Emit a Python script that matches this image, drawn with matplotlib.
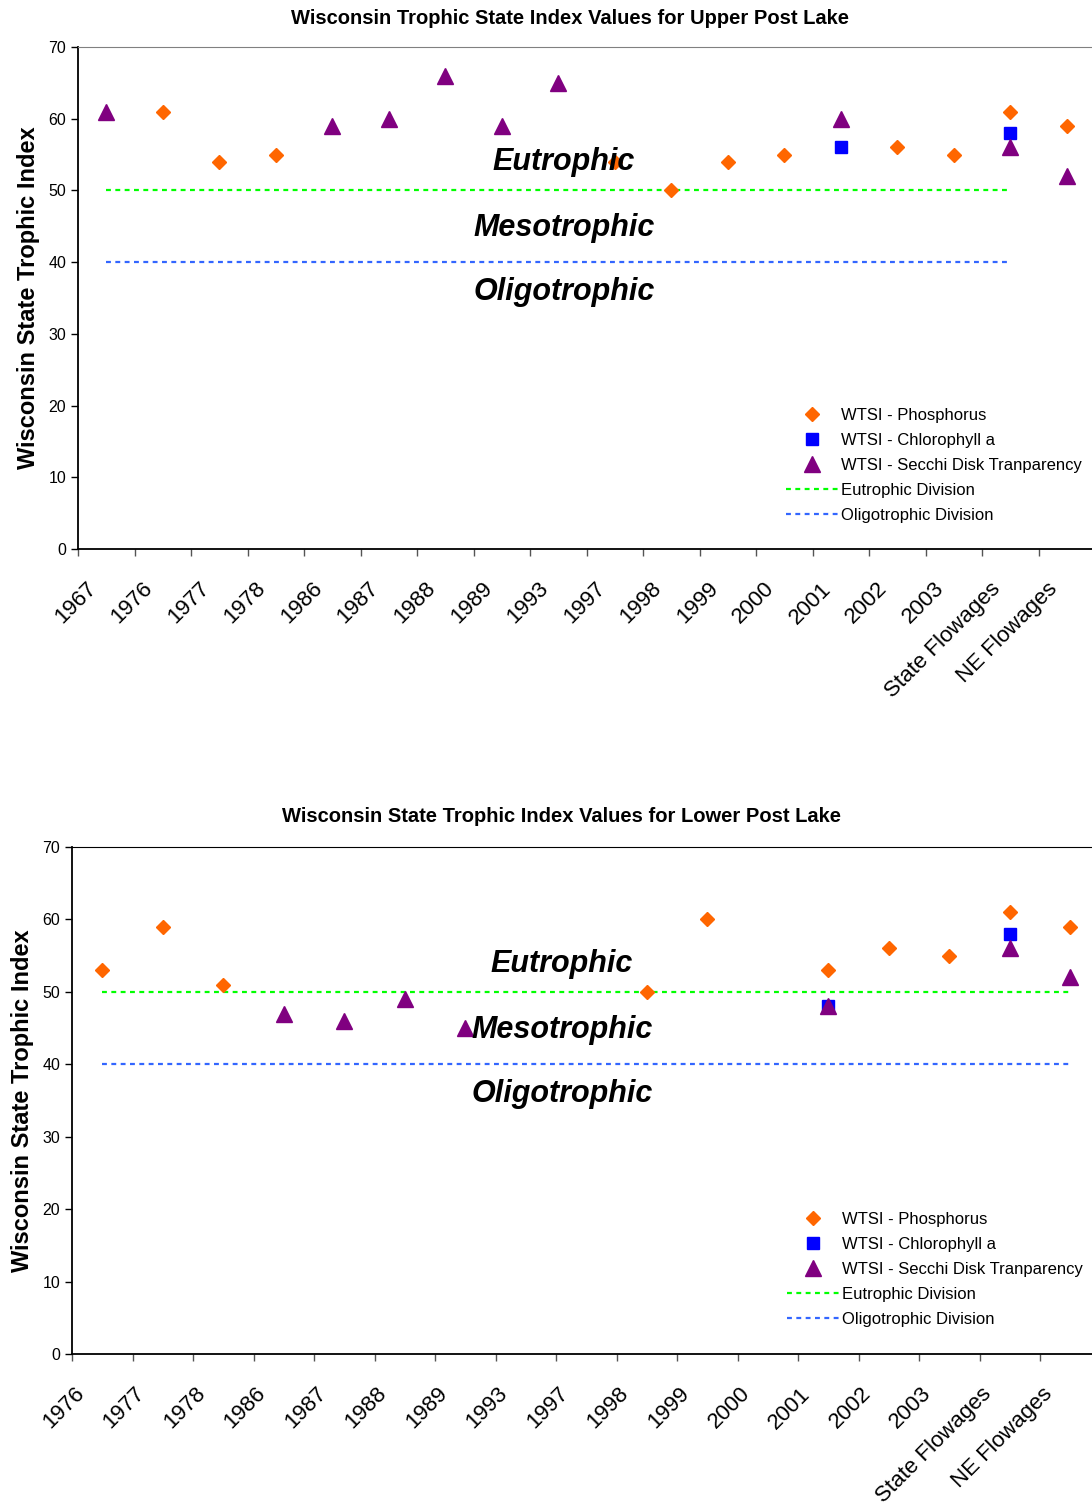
import matplotlib
matplotlib.use("Agg")
import matplotlib.pyplot as plt
import numpy as np

plt.rcParams['font.family'] = ['Liberation Sans', 'DejaVu Sans']

# ---- Upper Post Lake ----
upper_cats = ['1967', '1976', '1977', '1978', '1986', '1987', '1988', '1989', '1993',
              '1997', '1998', '1999', '2000', '2001', '2002', '2003',
              'State Flowages', 'NE Flowages']
upper_phos = [None, 61, 54, 55, None, None, None, None, None,
              54, 50, 54, 55, None, 56, 55, 61, 59]
upper_chl = [None, None, None, None, None, None, None, None, None,
             None, None, None, None, 56, None, None, 58, None]
upper_secchi = [61, None, None, None, 59, 60, 66, 59, 65,
                None, None, None, None, 60, None, None, 56, 52]
upper_eutro = [50] * 17 + [None]
upper_oligo = [40] * 17 + [None]

# ---- Lower Post Lake ----
lower_cats = ['1976', '1977', '1978', '1986', '1987', '1988', '1989', '1993',
              '1997', '1998', '1999', '2000', '2001', '2002', '2003',
              'State Flowages', 'NE Flowages']
lower_phos = [53, 59, 51, None, None, None, None, None,
              None, 50, 60, None, 53, 56, 55, 61, 59]
lower_chl = [None, None, None, None, None, None, None, None,
             None, None, None, None, 48, None, None, 58, None]
lower_secchi = [None, None, None, 47, 46, 49, 45, None,
                None, None, None, None, 48, None, None, 56, 52]
lower_eutro = [50] * 17
lower_oligo = [40] * 17

ORANGE = '#FF6600'
BLUE = '#0000FF'
PURPLE = '#800080'
GREEN = '#00FF00'
LBLUE = '#3366FF'


def to_arr(v):
    return np.array([np.nan if a is None else a for a in v], dtype=float)


def draw_panel(ax, cats, phos, chl, secchi, eutro, oligo, text_x, leg_anchor,
               top_color, lab_off):
    x = np.arange(len(cats))
    ax.plot(x, to_arr(eutro), linestyle=(0, (2.2, 2.0)), color=GREEN, lw=1.6,
            label='Eutrophic Division', zorder=2)
    ax.plot(x, to_arr(oligo), linestyle=(0, (2.2, 2.0)), color=LBLUE, lw=1.6,
            label='Oligotrophic Division', zorder=2)
    ax.plot(x, to_arr(phos), 'D', color=ORANGE, ms=7.5, mec=ORANGE, ls='none',
            label='WTSI - Phosphorus', zorder=3)
    ax.plot(x, to_arr(chl), 's', color=BLUE, ms=8, ls='none',
            label='WTSI - Chlorophyll a', zorder=4)
    ax.plot(x, to_arr(secchi), '^', color=PURPLE, ms=11, ls='none',
            label='WTSI - Secchi Disk Tranparency', zorder=5)

    ax.set_xlim(-0.5, len(cats) - 0.5)
    ax.set_ylim(0, 70)
    ax.set_yticks(range(0, 71, 10))
    # tick marks on the category boundaries, labels hang just right of them
    ax.set_xticks(x - 0.5)
    ax.set_xticklabels([])
    ax.set_xticks(x - 0.5 + lab_off, minor=True)
    ax.set_xticklabels(cats, minor=True, rotation=45, ha='right', va='top',
                       rotation_mode='anchor', fontsize=16)
    ax.tick_params(axis='y', labelsize=11.5, length=5, direction='out', width=1)
    ax.tick_params(axis='x', which='major', length=5, direction='out', width=1, color='#555555')
    ax.tick_params(axis='x', which='minor', length=5, pad=16, color='none')
    ax.spines['right'].set_visible(False)
    ax.spines['top'].set_color(top_color)
    ax.spines['left'].set_linewidth(1.3)
    ax.spines['bottom'].set_linewidth(1.3)
    ax.set_ylabel('Wisconsin State Trophic Index', fontsize=17, fontweight='bold', labelpad=6)

    for label, yv in [('Eutrophic', 53.9), ('Mesotrophic', 44.8), ('Oligotrophic', 35.9)]:
        ax.text(text_x, yv, label, fontsize=22, fontweight='bold', fontstyle='italic',
                ha='center', va='center', zorder=10)

    handles, labels = ax.get_legend_handles_labels()
    order = [2, 3, 4, 0, 1]
    ax.legend([handles[i] for i in order], [labels[i] for i in order],
              loc='upper left', bbox_to_anchor=leg_anchor, bbox_transform=ax.figure.transFigure,
              frameon=False, fontsize=12, handlelength=3.1, handletextpad=0.18,
              labelspacing=0.6, borderpad=0, borderaxespad=0)


fig = plt.figure(figsize=(10.92, 15.06), dpi=100)

ax1 = fig.add_axes([78 / 1092, 1 - 549 / 1506, 1017 / 1092, 502 / 1506])
draw_panel(ax1, upper_cats, upper_phos, upper_chl, upper_secchi, upper_eutro, upper_oligo,
           8.1, (786 / 1092, 1 - 408 / 1506), '#808080', 0.14)
fig.text(570 / 1092, 1 - 18 / 1506, 'Wisconsin Trophic State Index Values for Upper Post Lake',
         ha='center', va='center', fontsize=14.5, fontweight='bold')

ax2 = fig.add_axes([72 / 1092, 1 - 1354 / 1506, 1028.5 / 1092, 507 / 1506])
draw_panel(ax2, lower_cats, lower_phos, lower_chl, lower_secchi, lower_eutro, lower_oligo,
           7.6, (787 / 1092, 1 - 1212 / 1506), '#000000', 0.03)
fig.text(562 / 1092, 1 - 817 / 1506, 'Wisconsin State Trophic Index Values for Lower Post Lake',
         ha='center', va='center', fontsize=14.5, fontweight='bold')

fig.savefig('out.png', dpi=100)
